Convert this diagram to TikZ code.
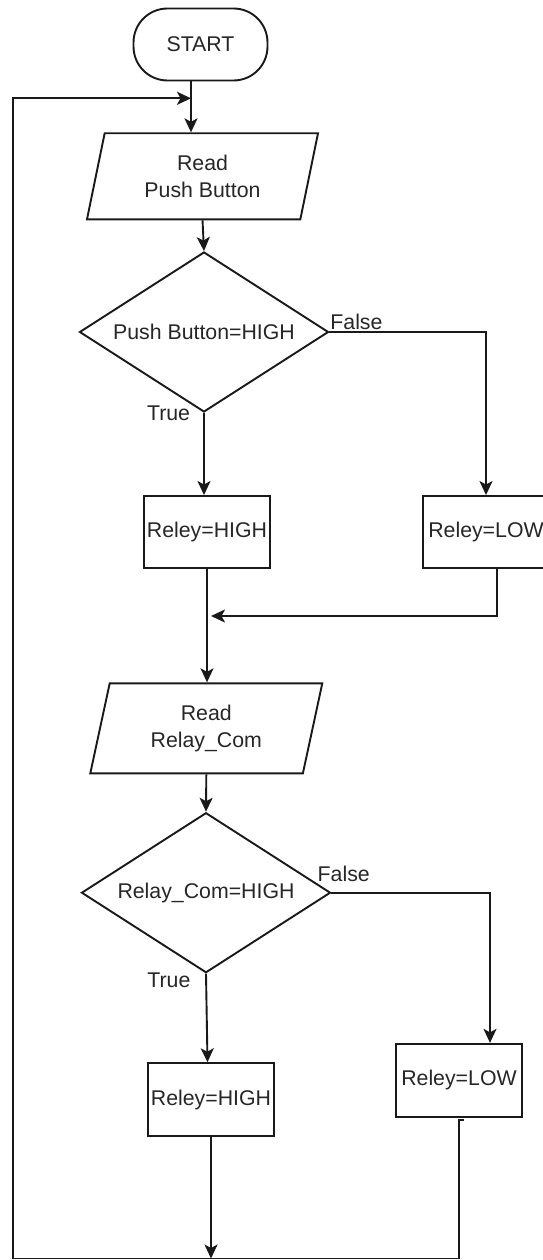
\documentclass[tikz,border=0pt]{standalone}
\usepackage{fontspec}
\setmainfont{Liberation Sans}
\usetikzlibrary{shapes.geometric,arrows.meta}

\begin{document}
\begin{tikzpicture}[x=1pt,y=-1pt,
	every node/.style={font=\fontsize{21.3}{27}\selectfont, text=black!85, align=center},
	line/.style={line width=1.9pt, draw=black!90},
	arr/.style={line, -{Stealth[length=14pt,width=13pt,inset=3.5pt]}},
	term/.style={draw=black!90, line width=1.9pt, rectangle, rounded corners=34pt, minimum width=134pt, minimum height=72pt, inner sep=0pt},
	io/.style={draw=black!90, line width=1.9pt, trapezium, trapezium left angle=67.5, trapezium right angle=112.5, trapezium stretches body, minimum width=231pt, minimum height=86pt, inner sep=0pt},
	test/.style={draw=black!90, line width=1.9pt, diamond, aspect=1.56, minimum width=249pt, minimum height=160pt, inner sep=0pt},
	proc/.style={draw=black!90, line width=1.9pt, rectangle, minimum width=126pt, minimum height=72pt, inner sep=0pt},
	lbl/.style={inner sep=0pt}]
	\useasboundingbox (0,0) rectangle (542,1260);

	%blocks
	\node[term] (start) at (200.5,44.5) {START};
	\node[io] (in1) at (202.5,176.3) {Read\\Push Button};
	\node[test] (d1) at (204,332) {Push Button=HIGH};
	\node[proc] (rh1) at (207,532) {Reley=HIGH};
	\node[proc] (rl1) at (486,532) {Reley=LOW};
	\node[io, minimum width=232pt, minimum height=90pt] (in2) at (206.3,728.3) {Read\\Relay\_Com};
	\node[test] (d2) at (206,892.7) {Relay\_Com=HIGH};
	\node[proc, minimum height=73pt] (rh2) at (211,1099.7) {Reley=HIGH};
	\node[proc, minimum height=73pt] (rl2) at (459,1080.3) {Reley=LOW};

	\coordinate (back) at (191,98.3);
	\coordinate (j1) at (211,616);
	\coordinate (corner) at (13,1258.5);

	%first test
	\draw[arr] (start.south -| back) -- (in1.north -| back);
	\draw[arr] (in1.south) -- (d1.north);
	\draw[arr] (d1.south) -- node[lbl, pos=0, anchor=east, xshift=-13pt]{True} ([xshift=-3pt]rh1.north);
	\draw[arr] (d1.east) -| node[lbl, pos=0, anchor=base west, yshift=3pt]{False} (rl1.north);
	\draw[arr] ([xshift=11pt]rl1.south) |- (j1);
	\draw[arr] (rh1.south) -- (in2.north -| rh1.south);

	%second test
	\draw[arr] (in2.south) -- (d2.north);
	\draw[arr] (d2.south) -- node[lbl, pos=0, anchor=east, xshift=-14.7pt, yshift=-6.6pt]{True} ([xshift=-3.5pt]rh2.north);
	\draw[arr] (d2.east) -| node[lbl, pos=0, anchor=base west, xshift=-14.7pt, yshift=11pt]{False} ([xshift=31pt]rl2.north);

	%back to the top
	\draw[arr] (rh2.south) -- (rh2.south |- corner);
	\draw[arr] ([xshift=5pt,yshift=-2.3pt]rl2.south) -- ([yshift=-2.3pt]rl2.south) -- (rl2.south |- corner) -- (corner) |- (back);
\end{tikzpicture}
\end{document}
